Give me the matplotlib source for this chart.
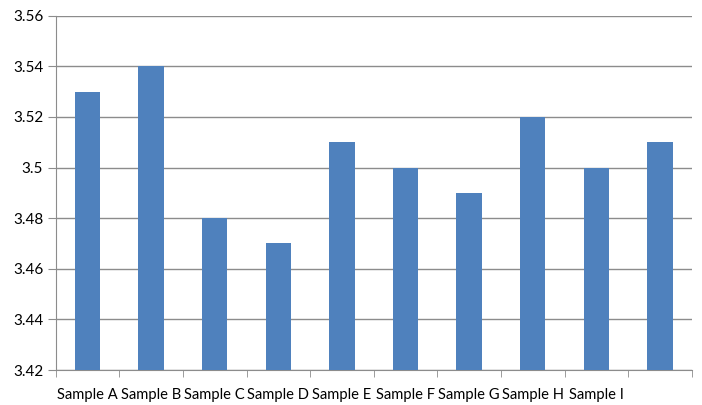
import numpy as np
import matplotlib.pyplot as plt
from matplotlib.ticker import FuncFormatter

categories = ['Sample A', 'Sample B', 'Sample C', 'Sample D', 'Sample E',
              'Sample F', 'Sample G', 'Sample H', 'Sample I', '']
values = [3.53, 3.54, 3.48, 3.47, 3.51, 3.50, 3.49, 3.52, 3.50, 3.51]
y_ticks = [3.42, 3.44, 3.46, 3.48, 3.50, 3.52, 3.54, 3.56]

plt.rcParams['font.family'] = ['Lato', 'DejaVu Sans']

fig = plt.figure(figsize=(7.02, 4.05), dpi=100)
ax = fig.add_axes([55.7 / 702, 35 / 405, 636 / 702, 354.3 / 405])

x = np.arange(len(categories))
ax.bar(x, values, width=0.4, color='#4f81bd', zorder=3)

ax.set_xlim(-0.5, len(categories) - 0.5)
ax.set_ylim(y_ticks[0], y_ticks[-1])
ax.set_yticks(y_ticks)
ax.yaxis.set_major_formatter(FuncFormatter(lambda v, p: f'{v:g}'))
ax.grid(axis='y', color='#8c8c8c', linewidth=1, zorder=0)

# category labels in the middle, small ticks between categories
ax.set_xticks(x)
ax.set_xticklabels(categories)
ax.set_xticks(np.arange(-0.5, len(categories)), minor=True)
ax.tick_params(axis='x', which='major', length=0, pad=13, labelsize=10.6, colors='#000000')
ax.tick_params(axis='x', which='minor', length=5, color='#8c8c8c', direction='out')
ax.tick_params(axis='y', length=6, color='#8c8c8c', labelsize=11, pad=3)

for side in ['top', 'right']:
    ax.spines[side].set_visible(False)
for side in ['left', 'bottom']:
    ax.spines[side].set_color('#8c8c8c')

fig.savefig('out.png', dpi=100)
